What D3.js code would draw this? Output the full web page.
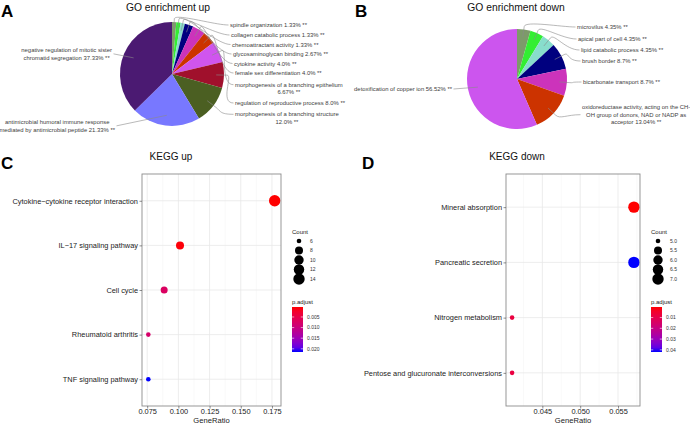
<!DOCTYPE html>
<html><head><meta charset="utf-8">
<script src="https://cdn.jsdelivr.net/npm/d3@7"></script>
<style>body{margin:0;background:#fff}svg{display:block}text{font-family:"Liberation Sans",Arial,sans-serif}</style>
</head><body><svg id="c" width="690" height="424"></svg>
<script>
// ================= DATA =================
const goUpTerms = ["spindle organization","collagen catabolic process","chemoattractant activity","glycosaminoglycan binding","cytokine activity","female sex differentiation","morphogenesis of a branching epithelium\n","regulation of reproductive process","morphogenesis of a branching structure\n","antimicrobial humoral immune response\nmediated by antimicrobial peptide","negative regulation of mitotic sister\nchromatid segregation"];
const goUpPct = [1.33,1.33,1.33,2.67,4.0,4.0,6.67,8.0,12.0,21.33,37.33];
const goUpPctText = ["1.33","1.33","1.33","2.67","4.0","4.0","6.67","8.0","12.0","21.33","37.33"];

const goDownTerms = ["microvilus","apical part of cell","lipid catabolic process","brush border","bicarbonate transport","oxidoreductase activity, acting on the CH-\nOH group of donors, NAD or NADP as\nacceptor","detoxification of copper ion"];
const goDownPct = [4.35,4.35,4.35,8.7,8.7,13.04,56.52];
const goDownPctText = ["4.35","4.35","4.35","8.7","8.7","13.04","56.52"];

const keggUpPathways = ["Cytokine\u2212cytokine receptor interaction","IL\u221217 signaling pathway","Cell cycle","Rheumatoid arthritis","TNF signaling pathway"];
const keggUpRatio = [0.1772,0.1013,0.0886,0.0759,0.0759];
const keggUpCount = [14,8,7,6,6];
const keggUpPadj = [0.0003,0.0006,0.0072,0.0080,0.0215];
const keggUpXTicks = [0.075,0.100,0.125,0.150,0.175];
const keggUpCountTicks = [6,8,10,12,14];
const keggUpPadjTicks = [0.005,0.010,0.015,0.020];

const keggDownPathways = ["Mineral absorption","Pancreatic secretion","Nitrogen metabolism","Pentose and glucuronate interconversions"];
const keggDownRatio = [0.0571,0.0571,0.0410,0.0410];
const keggDownCount = [7,7,5,5];
const keggDownPadj = [0.0002,0.042,0.0080,0.0082];
const keggDownXTicks = [0.045,0.050,0.055];
const keggDownCountTicks = [5.0,5.5,6.0,6.5,7.0];
const keggDownPadjTicks = [0.01,0.02,0.03,0.04];

// ================= STYLE =================
const pieUpColors = ["#7d9a6a","#33ee33","#88ddcc","#00007f","#cc33bb","#cc3300","#d055ee","#a0102c","#4b5f22","#7878ff","#4b1a72"];
const pieDownColors = ["#7d9a6a","#33ee33","#88ddcc","#00007f","#cc33bb","#cc3300","#cc55ee"];

const svg = d3.select("#c");
svg.append("rect").attr("width",690).attr("height",424).attr("fill","#fff");

// panel letters
[["A",1,17],["B",355,17],["C",1,169],["D",362,169]].forEach(([t,x,y])=>{
  svg.append("text").attr("x",x).attr("y",y).attr("font-size",17).attr("font-weight","bold").attr("fill","#000").text(t);
});
// titles
svg.append("text").attr("x",168).attr("y",11).attr("text-anchor","middle").attr("font-size",10.3).attr("fill","#111").text("GO enrichment up");
svg.append("text").attr("x",516).attr("y",11).attr("text-anchor","middle").attr("font-size",10.3).attr("fill","#111").text("GO enrichment down");
svg.append("text").attr("x",171).attr("y",160).attr("text-anchor","middle").attr("font-size",10).attr("fill","#111").text("KEGG up");
svg.append("text").attr("x",517).attr("y",160).attr("text-anchor","middle").attr("font-size",10).attr("fill","#111").text("KEGG down");

// ================= PIES =================
function drawPie(cx, cy, r, terms, pcts, pctText, colors, layout){
  const g = svg.append("g");
  const pie = d3.pie().sort(null).value(d=>d)(pcts);
  const arc = d3.arc().innerRadius(0).outerRadius(r);
  g.selectAll("path.s").data(pie).join("path").attr("class","s")
    .attr("transform",`translate(${cx},${cy})`).attr("d",arc)
    .attr("fill",(d,i)=>colors[i]);
  const fs = 5.9, lh = 7.7;
  const pt = (a, rr)=>[cx + Math.sin(a)*rr, cy - Math.cos(a)*rr];
  pie.forEach((d,i)=>{
    const L = layout[i];
    const full = terms[i] + " " + pctText[i] + "% **";
    const lines = full.split("\n").map(s=>s.trim());
    const t = g.append("text").attr("font-size",fs).attr("fill","#404040");
    const tsp = lines.map((ln,k)=>t.append("tspan").attr("y", L.y + k*lh + fs*0.35).text(ln));
    const bw = d3.max(tsp, s=>s.node().getComputedTextLength());
    const mx = L.side==="r" ? L.x + bw/2 : L.x - bw/2;
    t.attr("text-anchor","middle"); tsp.forEach(s=>s.attr("x",mx));
    const mid = (d.startAngle+d.endAngle)/2;
    let path;
    if(L.side==="r"){
      const ay = L.y + Math.floor((lines.length-1)/2)*lh;
      const ax = L.x - 1.5;
      const p0 = pt(mid, r*0.85), p1 = pt(mid, r*1.06), c1 = pt(mid, r*1.06+6);
      path = `M${p0}L${p1}C${c1} ${ax-14},${ay} ${ax},${ay}`;
    } else {
      const ay = L.y + (lines.length-1)*lh/2;
      const p0 = pt(mid, r*0.8);
      path = `M${L.x+1.5},${ay}L${p0}`;
    }
    g.append("path").attr("d",path).attr("fill","none").attr("stroke","#8a8a8a").attr("stroke-width",0.6);
  });
}
drawPie(172,74,52,goUpTerms,goUpPct,goUpPctText,pieUpColors,[
  {side:"r",x:230,y:25},{side:"r",x:231,y:35},{side:"r",x:232,y:44.5},{side:"r",x:233,y:54},
  {side:"r",x:234,y:63.5},{side:"r",x:235,y:73},{side:"r",x:235,y:84.7},{side:"r",x:235,y:103},
  {side:"r",x:235,y:114.3},{side:"l",x:115,y:122},{side:"l",x:112,y:50}
]);
drawPie(517,79,50,goDownTerms,goDownPct,goDownPctText,pieDownColors,[
  {side:"r",x:577,y:27},{side:"r",x:578,y:39},{side:"r",x:581,y:50},{side:"r",x:582,y:61},
  {side:"r",x:583,y:82},{side:"r",x:582,y:107},{side:"l",x:452,y:89}
]);

// ================= DOT PLOTS =================
function dotPlot(o){
  const g = svg.append("g");
  const [xmin,xmax] = d3.extent(o.ratio); const pad=(xmax-xmin)*0.05;
  const x = d3.scaleLinear().domain([xmin-pad,xmax+pad]).range([o.left,o.right]);
  const y = d3.scalePoint().domain(o.cats).range([o.top,o.bottom]).padding(0.6);
  const [cmin,cmax] = d3.extent(o.countTicks);
  const norm = d3.scaleLinear().domain([cmin,cmax]).range([0,1]);
  const rs = d3.scalePow().exponent(0.5).domain([0,1]).range([2.3,5.7]);
  const rad = c=>rs(norm(c));
  const [pmin,pmax] = d3.extent(o.padj);
  const col = d3.scaleLinear().domain([pmin,pmax]).range(["#ff0000","#0000ff"]).interpolate(d3.interpolateLab);
  // grid
  const step = o.xTicks[1]-o.xTicks[0];
  const minor = d3.range(o.xTicks[0]-step/2, o.xTicks[o.xTicks.length-1]+step, step).filter(v=>v>x.domain()[0]&&v<x.domain()[1]);
  g.selectAll("line.mn").data(minor).join("line").attr("x1",d=>x(d)).attr("x2",d=>x(d)).attr("y1",o.top).attr("y2",o.bottom).attr("stroke","#f2f2f2").attr("stroke-width",0.5);
  g.selectAll("line.mj").data(o.xTicks).join("line").attr("x1",d=>x(d)).attr("x2",d=>x(d)).attr("y1",o.top).attr("y2",o.bottom).attr("stroke","#e8e8e8").attr("stroke-width",0.8);
  g.selectAll("line.hy").data(o.cats).join("line").attr("x1",o.left).attr("x2",o.right).attr("y1",d=>y(d)).attr("y2",d=>y(d)).attr("stroke","#e8e8e8").attr("stroke-width",0.8);
  // points
  g.selectAll("circle.pt").data(o.cats).join("circle")
    .attr("cx",(d,i)=>x(o.ratio[i])).attr("cy",d=>y(d)).attr("r",(d,i)=>rad(o.count[i]))
    .attr("fill",(d,i)=>col(o.padj[i]));
  g.append("rect").attr("x",o.left).attr("y",o.top).attr("width",o.right-o.left).attr("height",o.bottom-o.top).attr("fill","none").attr("stroke","#8c8c8c").attr("stroke-width",0.9);
  // axes
  const styleAx = sel=>{sel.select(".domain").remove(); sel.selectAll("line").attr("stroke","#444").attr("stroke-width",0.6); sel.selectAll("text").attr("font-size",7.4).attr("fill","#222").attr("font-family","'Liberation Sans',Arial,sans-serif");};
  g.append("g").attr("transform",`translate(0,${o.bottom})`).call(d3.axisBottom(x).tickValues(o.xTicks).tickFormat(d3.format(".3f")).tickSize(2.5).tickPadding(0.6)).call(styleAx);
  g.append("g").attr("transform",`translate(${o.left},0)`).call(d3.axisLeft(y).tickSize(2.5).tickPadding(1.5)).call(styleAx);
  g.append("text").attr("x",(o.left+o.right)/2).attr("y",423.3).attr("text-anchor","middle").attr("font-size",7.6).attr("fill","#222").text("GeneRatio");
  // size legend
  const lx = o.legendX;
  g.append("text").attr("x",lx).attr("y",234).attr("font-size",6).attr("fill","#222").text("Count");
  const ly = d3.scalePoint().domain(o.countTicks).range([241,279]);
  o.countTicks.forEach(c=>{
    g.append("circle").attr("cx",lx+7).attr("cy",ly(c)).attr("r",rad(c)).attr("fill","#000");
    g.append("text").attr("x",lx+o.labOff).attr("y",ly(c)+1.8).attr("font-size",5).attr("fill","#333").text(o.countFmt(c));
  });
  // colorbar
  g.append("text").attr("x",lx).attr("y",304).attr("font-size",6).attr("fill","#222").text("p.adjust");
  const gid = "grad"+o.id;
  const grad = svg.append("defs").append("linearGradient").attr("id",gid).attr("x1",0).attr("x2",0).attr("y1",0).attr("y2",1);
  d3.range(0,1.0001,0.1).forEach(t=>grad.append("stop").attr("offset",t).attr("stop-color",col(pmin+(pmax-pmin)*t)));
  const bt=307, bb=352, bw=11;
  g.append("rect").attr("x",lx).attr("y",bt).attr("width",bw).attr("height",bb-bt).attr("fill",`url(#${gid})`);
  const cy = d3.scaleLinear().domain([pmin,pmax]).range([bt,bb]);
  o.padjTicks.forEach(p=>{
    g.append("line").attr("x1",lx).attr("x2",lx+2.2).attr("y1",cy(p)).attr("y2",cy(p)).attr("stroke","#fff").attr("stroke-width",0.6);
    g.append("line").attr("x1",lx+bw-2.2).attr("x2",lx+bw).attr("y1",cy(p)).attr("y2",cy(p)).attr("stroke","#fff").attr("stroke-width",0.6);
    g.append("text").attr("x",lx+bw+4).attr("y",cy(p)+1.8).attr("font-size",5).attr("fill","#333").text(o.padjFmt(p));
  });
}
dotPlot({id:"u",left:142,right:281,top:174,bottom:406,cats:keggUpPathways,ratio:keggUpRatio,count:keggUpCount,padj:keggUpPadj,
  xTicks:keggUpXTicks,countTicks:keggUpCountTicks,padjTicks:keggUpPadjTicks,legendX:292,labOff:18,
  countFmt:d3.format("d"),padjFmt:d3.format(".3f")});
dotPlot({id:"d",left:506,right:640,top:174,bottom:406,cats:keggDownPathways,ratio:keggDownRatio,count:keggDownCount,padj:keggDownPadj,
  xTicks:keggDownXTicks,countTicks:keggDownCountTicks,padjTicks:keggDownPadjTicks,legendX:651,labOff:19,
  countFmt:d3.format(".1f"),padjFmt:d3.format(".2f")});
</script></body></html>
